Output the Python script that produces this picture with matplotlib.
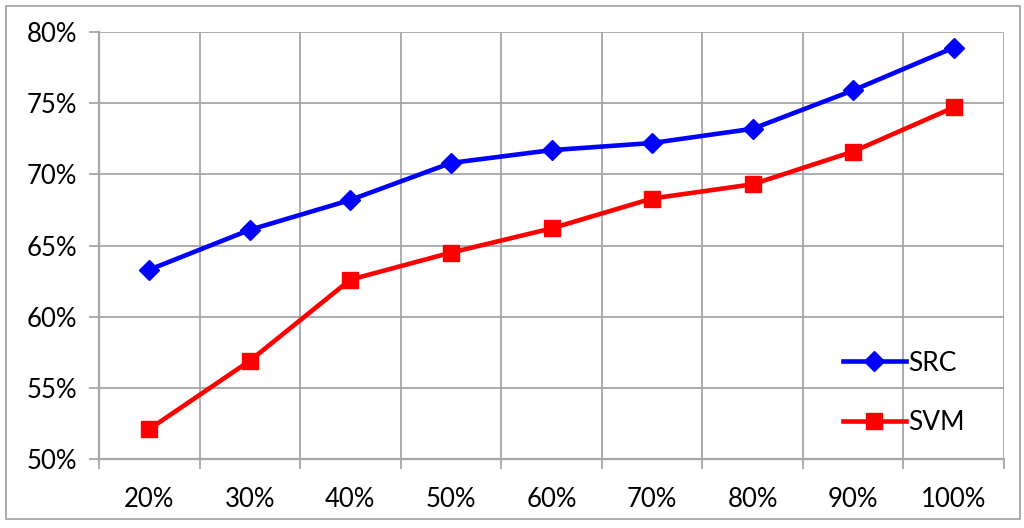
import matplotlib
matplotlib.use('Agg')
import matplotlib.pyplot as plt
from matplotlib.patches import Rectangle

plt.rcParams['font.family'] = ['Lato', 'DejaVu Sans']

#### Data
categories = ['20%', '30%', '40%', '50%', '60%', '70%', '80%', '90%', '100%']
src = [63.3, 66.1, 68.2, 70.8, 71.7, 72.2, 73.2, 75.9, 78.9]
svm = [52.1, 56.9, 62.6, 64.5, 66.2, 68.3, 69.3, 71.6, 74.7]
yticks = [50, 55, 60, 65, 70, 75, 80]

grid_col = '#a6a6a6'

fig = plt.figure(figsize=(10.24, 5.28), dpi=100)
ax = fig.add_axes([99/1024, 1-459/528, (1004-99)/1024, (459-32)/528])

x = list(range(len(categories)))
ax.plot(x, src, color='#0000ff', lw=3.3, marker='D', ms=10, label='SRC', zorder=3)
ax.plot(x, svm, color='#ff0000', lw=3.3, marker='s', ms=11.5, label='SVM', zorder=3)

# axes and grid
ax.set_xlim(-0.5, len(categories)-0.5)
ax.set_ylim(50, 80)
ax.set_yticks(yticks)
ax.set_yticklabels([str(v)+'%' for v in yticks])
ax.set_xticks([k+0.5 for k in range(-1, len(categories))], minor=True)
ax.set_xticks(x)
ax.set_xticklabels(categories)
ax.grid(which='major', axis='y', color=grid_col, lw=1.3)
ax.grid(which='minor', axis='x', color=grid_col, lw=1.3)
ax.tick_params(axis='x', which='major', length=0, pad=20, labelsize=18.5)
ax.tick_params(axis='x', which='minor', length=7, color=grid_col, width=1.3)
ax.tick_params(axis='y', length=7, color=grid_col, width=1.3, pad=9, labelsize=18.5)
ax.set_axisbelow(True)
for s in ['top', 'right']:
	ax.spines[s].set_visible(False)
for s in ['left', 'bottom']:
	ax.spines[s].set_color(grid_col)
	ax.spines[s].set_linewidth(1.6)

# legend
ax.legend(loc='upper left', bbox_to_anchor=(832/1024, 1-340/528), bbox_transform=fig.transFigure,
		  frameon=False, fontsize=19, handlelength=2.4, labelspacing=1.3, handletextpad=0.1,
		  borderaxespad=0)

# outer border
fig.patches.append(Rectangle((6/1024, 1-519/528), (1020-6)/1024, (519-6)/528,
							 transform=fig.transFigure, fill=False, ec='#a6a6a6', lw=1.3))

fig.savefig('out.png', dpi=100)
